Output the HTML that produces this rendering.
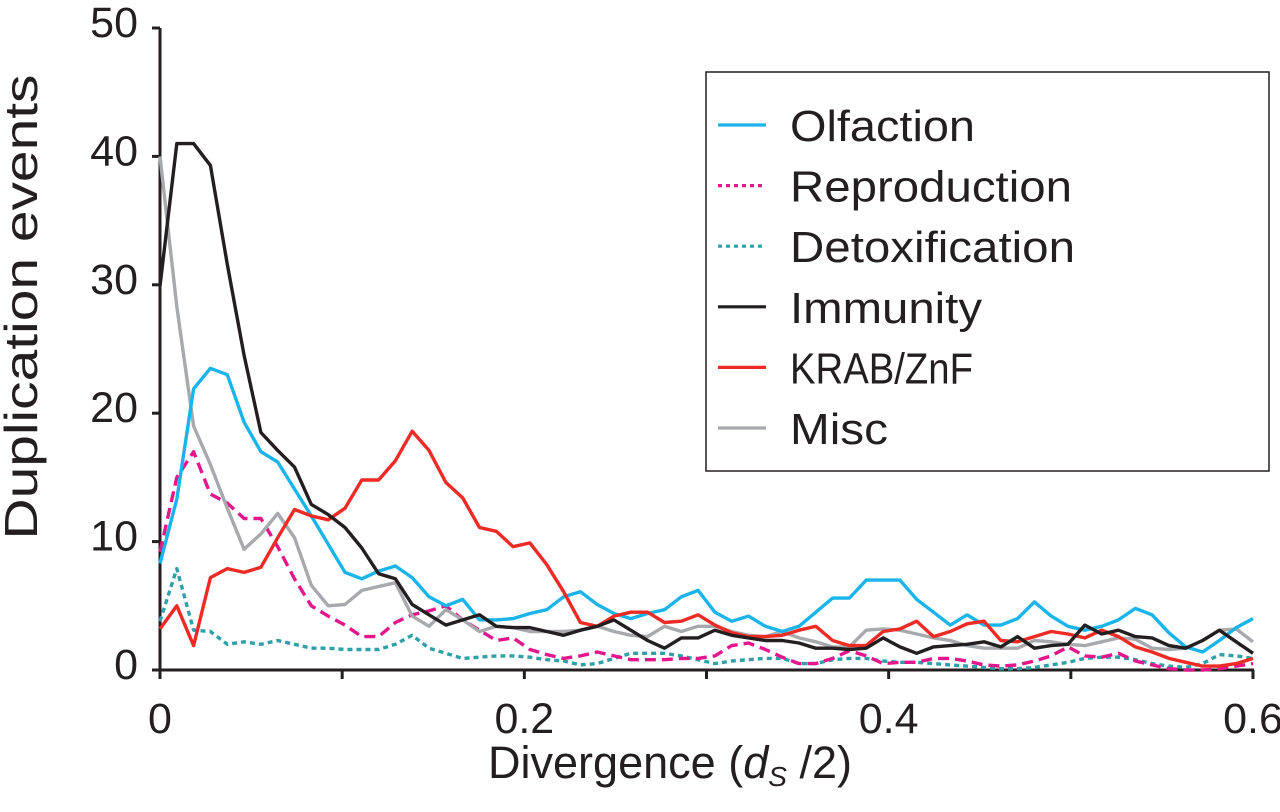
<!DOCTYPE html>
<html><head><meta charset="utf-8"><style>
html,body{margin:0;padding:0;background:#fff;}
svg{display:block;font-family:"Liberation Sans",Arial,sans-serif;}
</style></head><body>
<svg id="chart" width="1280" height="812" viewBox="0 0 1280 812" xmlns="http://www.w3.org/2000/svg">
<g id="axes"></g>
<g id="series"></g>
<g id="legend"></g>
</svg>
<script>
const xTicks = [0,0.1,0.2,0.3,0.4,0.5,0.6];
const xTickLabels = ["0","","0.2","","0.4","","0.6"];
const yTicks = [0,10,20,30,40,50];
const yTickLabels = ["0","10","20","30","40","50"];
const seriesNames = ["Olfaction","Reproduction","Detoxification","Immunity","KRAB/ZnF","Misc"];
const olfaction = [8.3,13.3,21.9,23.5,23,19.3,17,16.2,14.1,12,9.8,7.6,7.1,7.7,8.1,7.2,5.7,5.0,
5.5,3.9,3.9,4,4.4,4.7,5.7,6.1,5.1,4.4,4,4.4,4.7,5.7,6.2,4.5,3.8,4.2,3.4,3,3.4,4.5,5.6,5.6,
7,7,7,5.5,4.5,3.5,4.3,3.5,3.5,4,5.3,4.2,3.4,3.1,3.4,3.9,4.8,4.3,2.9,1.8,1.4,2.3,3.3,4];
const reproduction = [9.2,15,17,13.7,13,11.8,11.8,9.6,7.1,5,4.2,3.5,2.6,2.6,3.7,4.3,4.6,5,
3.9,3.1,2.3,2.5,1.6,1.2,0.9,1.1,1.4,1.1,0.8,0.8,0.8,0.9,0.9,1.1,1.9,2.1,1.6,1,0.5,0.5,0.9,1.5,
1.1,0.5,0.6,0.6,0.9,0.9,0.7,0.4,0.3,0.4,0.7,1.1,1.8,1.1,1,1.3,0.7,0.4,0.1,0,0,0.1,0.3,0.5];
const detoxification = [3.8,7.9,3.1,3,2,2.2,2,2.3,2,1.7,1.7,1.6,1.6,1.6,2,2.7,1.7,1.3,
0.9,1,1.1,1.1,1,0.8,0.7,0.4,0.5,0.9,1.3,1.3,1.3,1.1,0.8,0.5,0.7,0.8,0.9,0.9,0.5,0.5,0.8,0.9,
0.9,0.7,0.6,0.6,0.5,0.4,0.3,0.2,0.1,0.1,0.2,0.4,0.6,0.9,1,1,0.8,0.5,0.3,0.2,0.5,1.2,1.1,0.9];
const immunity = [29.9,41,41,39.3,31.6,24.5,18.5,17.1,15.8,12.9,12.1,11.1,9.5,7.5,7.1,5.1,4.3,3.5,
3.9,4.3,3.4,3.3,3.3,3,2.7,3.1,3.4,3.9,3.1,2.3,1.7,2.5,2.5,3.1,2.7,2.5,2.3,2.3,2.1,1.7,1.7,1.6,
1.7,2.5,1.8,1.3,1.8,1.9,2,2.2,1.8,2.6,1.7,1.9,2,3.5,2.8,3.1,2.6,2.5,1.9,1.7,2.3,3.1,2.2,1.3];
const krab = [3.2,5,1.9,7.2,7.9,7.6,8,10.3,12.5,12,11.7,12.6,14.8,14.8,16.3,18.6,17.1,14.6,
13.4,11.1,10.8,9.6,9.9,8.2,6.1,3.7,3.4,4.2,4.5,4.5,3.7,3.8,4.3,3.5,2.9,2.6,2.6,2.7,3.1,3.4,2.3,1.9,
1.9,3,3.2,3.8,2.6,3,3.6,3.8,2.3,2.2,2.6,3,2.8,2.5,3.1,2.6,1.8,1.4,0.9,0.6,0.3,0.3,0.5,0.9];
const misc = [40,28.3,19,16,12.6,9.4,10.6,12.2,10.3,6.6,5,5.1,6.2,6.5,6.8,4.2,3.4,4.7,
3.9,3,3.4,3.3,3,3,3,3.1,3.4,3,2.7,2.6,3.4,3,3.4,3.4,3,2.7,2.6,3,2.5,2.2,1.8,1.8,
3.1,3.2,3.1,2.8,2.5,2.3,1.9,1.7,1.7,1.7,2.3,2.2,2,1.9,2.2,2.5,2.4,1.7,1.6,1.7,2.3,3.1,3.2,2.2];
const xMax = 0.6, yMax = 50;

const NS = "http://www.w3.org/2000/svg";
const X0 = 160, X1 = 1253, Y0 = 670, Y1 = 28;
function xs(v){ return X0 + (v / xMax) * (X1 - X0); }
function ys(v){ return Y0 - (v / yMax) * (Y0 - Y1); }
function mk(tag, attrs, parent){ const e = document.createElementNS(NS, tag); for (const k in attrs) e.setAttribute(k, attrs[k]); parent.appendChild(e); return e; }

const axes = document.getElementById("axes");
const yAxis = mk("line", {x1:X0, y1:Y1, x2:X0, y2:Y0+1, stroke:"#231f20", "stroke-width":3}, axes);


const xAxis = mk("line", {x1:X0-1, y1:Y0, x2:X1+1, y2:Y0, stroke:"#231f20", "stroke-width":3}, axes);



yTicks.forEach((t, i) => {
  const tk = mk("line", {x1:X0-8, y1:ys(t), x2:X0, y2:ys(t), stroke:"#231f20", "stroke-width":3}, axes);
  
  
  const lb = mk("text", {x:138, y:ys(t)+9, "text-anchor":"end", "font-size":43, fill:"#231f20"}, axes);
  lb.textContent = yTickLabels[i];
  
  
});
xTicks.forEach((t, i) => {
  const tk = mk("line", {x1:xs(t), y1:Y0, x2:xs(t), y2:Y0+9, stroke:"#231f20", "stroke-width":3}, axes);
  
  
  if (xTickLabels[i]) {
    const lb = mk("text", {x:xs(t), y:733, "text-anchor":"middle", "font-size":43, fill:"#231f20"}, axes);
    lb.textContent = xTickLabels[i];
    
    
  }
});
const xt = mk("text", {x:488, y:778, "font-size":45, fill:"#231f20", textLength:364, lengthAdjust:"spacingAndGlyphs"}, axes);
xt.innerHTML = 'Divergence (<tspan font-style="italic">d</tspan><tspan font-style="italic" font-size="28" dy="8">S</tspan><tspan dy="-8"> /2)</tspan>';


const yt = mk("text", {x:0, y:0, "text-anchor":"middle", "font-size":46, fill:"#231f20", textLength:465, lengthAdjust:"spacingAndGlyphs", transform:"translate(37,307) rotate(-90)"}, axes);
yt.textContent = "Duplication events";



const styles = [
  {data: olfaction, color:"#1ab4ea", dash:"", key:"olfaction", w:185},
  {data: reproduction, color:"#e4168c", dash:"11 6", key:"reproduction", w:282},
  {data: detoxification, color:"#2fa0a8", dash:"5 4", key:"detoxification", w:285},
  {data: immunity, color:"#231f20", dash:"", key:"immunity", w:192},
  {data: krab, color:"#ee2a24", dash:"", key:"krab-znf", w:183},
  {data: misc, color:"#a7a9ac", dash:"", key:"misc", w:98}
];
const drawOrder = [2,1,5,0,4,3];
const sg = document.getElementById("series");
drawOrder.forEach(si => {
  const s = styles[si];
  const n = s.data.length;
  const pts = s.data.map((v, i) => xs(i * xMax / (n - 1)).toFixed(1) + "," + ys(v).toFixed(1)).join(" ");
  const pl = mk("polyline", {points:pts, fill:"none", stroke:s.color, "stroke-width":3.4, "stroke-linejoin":"round"}, sg);
  if (s.dash) pl.setAttribute("stroke-dasharray", s.dash);
  
  
});

const lg = document.getElementById("legend");
const box = mk("rect", {x:706, y:72, width:563, height:399, fill:"#fff", stroke:"#231f20", "stroke-width":1.5}, lg);


styles.forEach((s, i) => {
  const y = 125 + i * 60.6;
  const ln = mk("line", {x1:718, y1:y, x2:766, y2:y, stroke:s.color, "stroke-width":3.2}, lg);
  if (s.dash) ln.setAttribute("stroke-dasharray", "4 4");
  
  
  const tx = mk("text", {x:790, y:y+16, "font-size":44, fill:"#231f20", textLength:s.w, lengthAdjust:"spacingAndGlyphs"}, lg);
  tx.textContent = seriesNames[i];
  
  
});
</script>
</body></html>
